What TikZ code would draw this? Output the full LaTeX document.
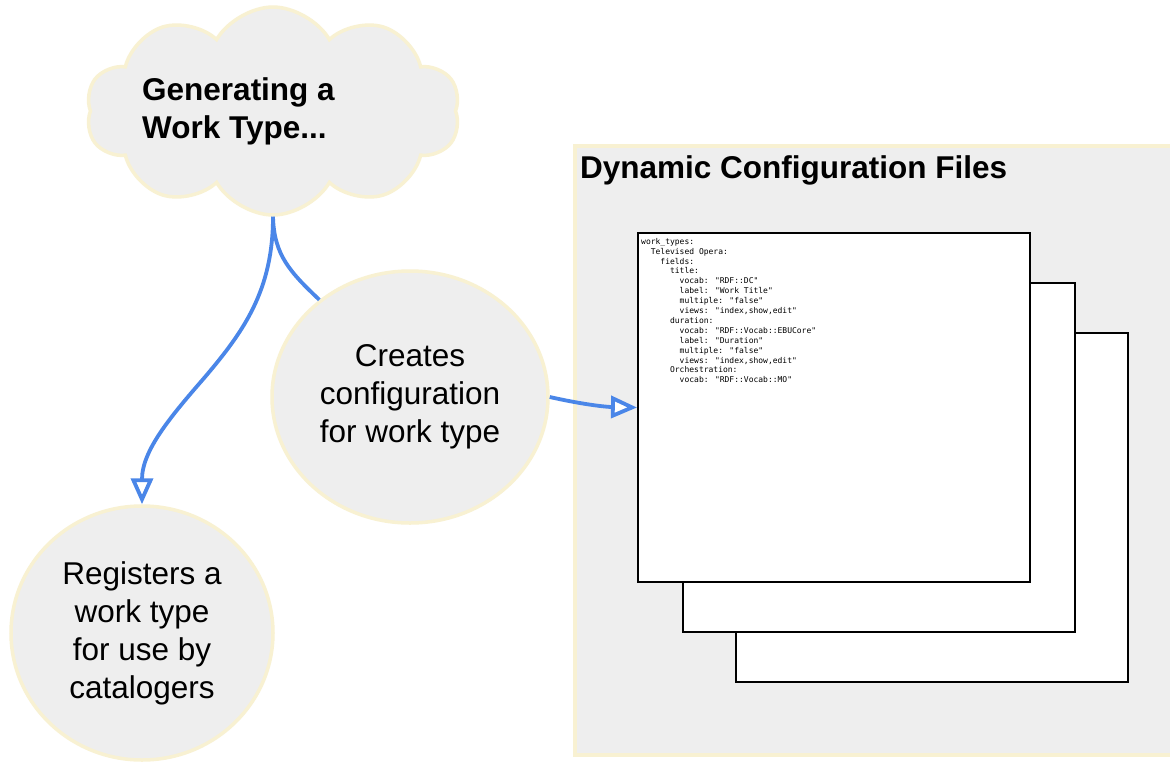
\documentclass[tikz,border=0pt]{standalone}
\usepackage{fontspec}
\setmainfont{Liberation Sans}
\newfontfamily\codefont{DejaVu Sans Mono}
\usetikzlibrary{shapes.symbols,shapes.geometric,arrows.meta}
\definecolor{panelfill}{HTML}{EEEEEE}
\definecolor{edgeyellow}{HTML}{F8F1D2}
\definecolor{linkblue}{HTML}{4A86E8}
\newcommand\ind[1]{\hphantom{#1}}
\begin{document}
\begin{tikzpicture}[x=1pt,y=-1pt,
  bigfont/.style={font=\fontsize{31.5}{38}\selectfont},
  bubble/.style={ellipse, draw=edgeyellow, fill=panelfill, line width=3.5pt,
    inner sep=0pt, align=center, bigfont},
  puffcloud/.style={cloud, cloud puffs=10, cloud puff arc=120, aspect=1.8,
    draw=edgeyellow, fill=panelfill, line width=3.5pt, inner sep=0pt},
  panelbox/.style={rectangle, draw=edgeyellow, fill=panelfill, line width=3.5pt,
    inner sep=0pt, anchor=north west},
  filebox/.style={rectangle, draw=black, fill=white, line width=2pt,
    inner sep=0pt, anchor=north west, minimum width=392pt, minimum height=349pt},
  boldtext/.style={bigfont, font=\fontsize{31.5}{38}\selectfont\bfseries, inner sep=0pt},
  link/.style={draw=linkblue, line width=3.8pt,
    -{Triangle[length=26pt, width=22pt, open, fill=white]}},
  linkline/.style={draw=linkblue, line width=3.8pt}]
\clip (0,0) rectangle (1170,761);
\fill[white] (0,0) rectangle (1170,761);
% panel
\node[panelbox, minimum width=620pt, minimum height=609pt] (panel) at (573,144) {};
\node[boldtext, anchor=base west] (title) at (580,178) {Dynamic Configuration Files};
% files
\node[filebox] (file3) at (735,332) {};
\node[filebox] (file2) at (682,282) {};
\node[filebox] (file1) at (637,232) {};
\node[anchor=north west, inner sep=0pt, align=left,
  font=\codefont\fontsize{8}{9.9}\selectfont] (code) at (641,238) {%
work\_types:\\
\ind{00}Televised Opera:\\
\ind{0000}fields:\\
\ind{000000}title:\\
\ind{00000000}vocab: "RDF::DC"\\
\ind{00000000}label: "Work Title"\\
\ind{00000000}multiple: "false"\\
\ind{00000000}views: "index,show,edit"\\
\ind{000000}duration:\\
\ind{00000000}vocab: "RDF::Vocab::EBUCore"\\
\ind{00000000}label: "Duration"\\
\ind{00000000}multiple: "false"\\
\ind{00000000}views: "index,show,edit"\\
\ind{000000}Orchestration:\\
\ind{00000000}vocab: "RDF::Vocab::MO"};
% cloud
\node[puffcloud, minimum width=374pt, minimum height=208pt] (cloud) at (273,111) {};
\node[boldtext, anchor=west, align=left] (cloudtext) at (142,111) {Generating a\\Work Type...};
% bubbles
\node[bubble, minimum width=276pt, minimum height=252pt] (creates) at (410,397)
  {Creates\\configuration\\for work type};
\node[bubble, minimum width=262pt, minimum height=254pt] (registers) at (142,633)
  {Registers a\\work type\\for use by\\catalogers};
% connectors
\draw[link] (cloud.south) .. controls (273,290) and (244,331) .. (205,377)
  .. controls (172,415) and (142,450) .. (registers.north);
\draw[linkline] (cloud.south) .. controls (274,255) and (290,272) .. (creates.133);
\draw[link] (creates.east) .. controls (590,406) and (610,407) .. (file1.west);
\end{tikzpicture}
\end{document}
